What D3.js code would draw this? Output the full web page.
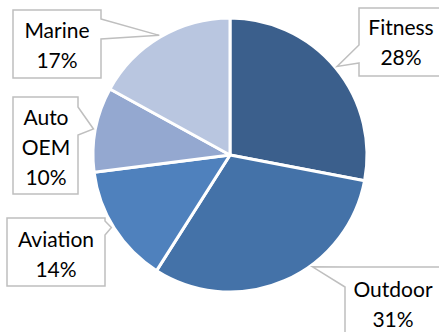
<!DOCTYPE html>
<html>
<head>
<meta charset="utf-8">
<script src="https://cdn.jsdelivr.net/npm/d3@7"></script>
<style>
  html, body { margin: 0; padding: 0; background: #fff; }
  svg { display: block; }
</style>
</head>
<body>
<div id="chart"></div>
<script>
// chart data
const categories = ["Fitness", "Outdoor", "Aviation", "Auto OEM", "Marine"];
const shares = [28, 31, 14, 10, 17];
const percentLabels = ["28%", "31%", "14%", "10%", "17%"];

const width = 439, height = 332;
const cx = 230, cy = 155, radius = 137;

// slice colours (blue monochrome)
const color = d3.scaleOrdinal()
  .domain(categories)
  .range(["#3b5f8c", "#4472a8", "#4f81bd", "#94a8d0", "#b9c6e0"]);

// callout boxes: box, pointer base (side + position), label lines
const callouts = {
  "Fitness":  { x: 359, y: 8,   w: 86, h: 68,  from: ["left", 63],  to: ["left", 45],  shift: 0,   tx: 401, ty: 35 },
  "Outdoor":  { x: 345, y: 267, w: 96, h: 80,  from: ["left", 287], to: ["top", 345],  shift: -13, tx: 393, ty: 297 },
  "Aviation": { x: 7,   y: 218, w: 98, h: 68,  from: ["right", 221], to: ["right", 235], shift: 1,  tx: 56,  ty: 247 },
  "Auto OEM": { x: 13,  y: 97,  w: 65, h: 97,  from: ["right", 107], to: ["right", 135], shift: 0,  tx: 46,  ty: 125 },
  "Marine":   { x: 13,  y: 10,  w: 88, h: 68,  from: ["right", 19], to: ["right", 39],  shift: 0,   tx: 57,  ty: 38 }
};
const lineGap = 30;

const svg = d3.select("#chart").append("svg")
  .attr("width", width)
  .attr("height", height);

const pie = d3.pie().sort(null).value(d => d.value);
const arcs = pie(categories.map((c, i) => ({ name: c, value: shares[i], pct: percentLabels[i] })));

const arc = d3.arc().innerRadius(0).outerRadius(radius);

const g = svg.append("g").attr("transform", `translate(${cx},${cy})`);

g.selectAll("path.slice").data(arcs).enter().append("path")
  .attr("class", "slice")
  .attr("d", arc)
  .attr("fill", d => color(d.data.name))
  .attr("stroke", "#fff")
  .attr("stroke-width", 3)
  .attr("stroke-linejoin", "round");

// position along box perimeter, clockwise from top-left corner (0..4)
function perimT(b, side, v) {
  if (side === "top") return (v - b.x) / b.w;
  if (side === "right") return 1 + (v - b.y) / b.h;
  if (side === "bottom") return 2 + (b.x + b.w - v) / b.w;
  return 3 + (b.y + b.h - v) / b.h;
}
function perimPoint(b, t) {
  t = ((t % 4) + 4) % 4;
  if (t < 1) return [b.x + t * b.w, b.y];
  if (t < 2) return [b.x + b.w, b.y + (t - 1) * b.h];
  if (t < 3) return [b.x + b.w - (t - 2) * b.w, b.y + b.h];
  return [b.x, b.y + b.h - (t - 3) * b.h];
}

const tipArc = d3.arc().innerRadius(radius + 2).outerRadius(radius + 2);

function outline(d) {
  const b = callouts[d.data.name];
  const sh = b.shift * Math.PI / 180;
  const c = tipArc.centroid({ startAngle: d.startAngle + sh, endAngle: d.endAngle + sh });
  const tip = [c[0] + cx, c[1] + cy];
  let t1 = perimT(b, b.from[0], b.from[1]);
  let t2 = perimT(b, b.to[0], b.to[1]);
  if (t2 < t1) t2 += 4;
  const pts = [perimPoint(b, t1), tip, perimPoint(b, t2)];
  // remaining corners after t2 until we come back to t1
  for (let k = Math.floor(t2) + 1; k < t1 + 4; k++) {
    if (k > t2) pts.push(perimPoint(b, k));
  }
  return d3.line()(pts) + "Z";
}

const labels = svg.selectAll("g.callout").data(arcs).enter().append("g")
  .attr("class", "callout");

labels.append("path")
  .attr("d", outline)
  .attr("fill", "#fff")
  .attr("stroke", "#bfbfbf")
  .attr("stroke-width", 1.5)
  .attr("stroke-linejoin", "miter");

labels.each(function (d) {
  const b = callouts[d.data.name];
  const lines = d.data.name === "Auto OEM" ? ["Auto", "OEM", d.data.pct] : [d.data.name, d.data.pct];
  d3.select(this).selectAll("text").data(lines).enter().append("text")
    .attr("x", b.tx)
    .attr("y", (t, i) => b.ty + i * lineGap)
    .attr("text-anchor", "middle")
    .attr("font-family", "Lato, 'Open Sans', sans-serif")
    .attr("font-size", "21px")
    .attr("fill", "#000")
    .text(t => t);
});
</script>
</body>
</html>
